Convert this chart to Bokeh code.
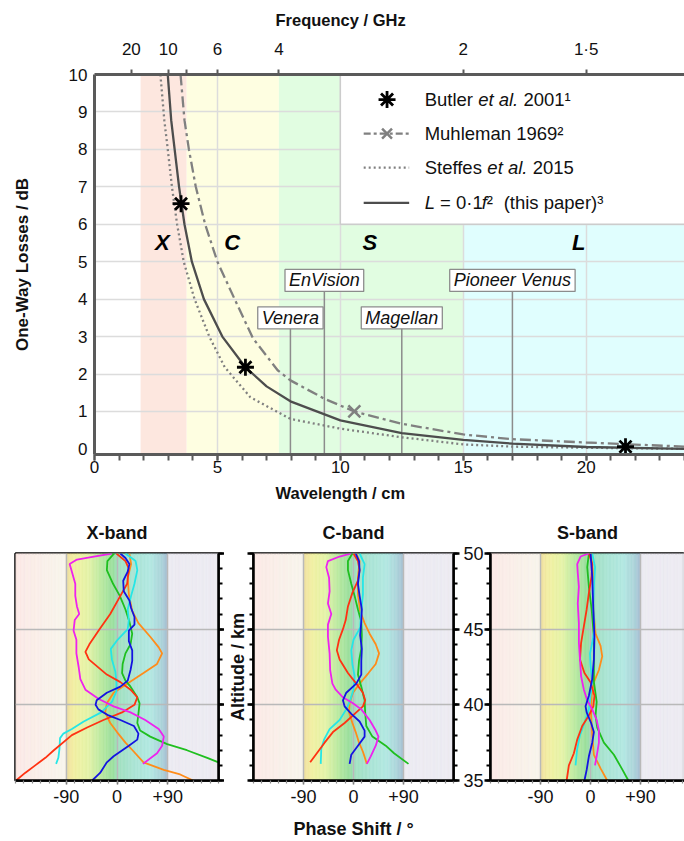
from bokeh.plotting import figure
from bokeh.models import FixedTicker, LinearAxis, Range1d, Title, CustomLabelingPolicy
from bokeh.layouts import column, row
from bokeh.embed import file_html
from bokeh.resources import INLINE
from bokeh.core.properties import value

FONT = "Liberation Sans"

# ---------------- top panel data ----------------
freq_ticks = [20, 10, 8, 6, 4, 2, 1.5]
freq_labels = ["20", "10", "", "6", "4", "2", "1·5"]
wl_ticks = [0, 5, 10, 15, 20]
loss_ticks = [0, 1, 2, 3, 4, 5, 6, 7, 8, 9, 10]

band_names = ["X", "C", "S", "L"]
band_lo = [1.875, 3.75, 7.5, 15.0]
band_hi = [3.75, 7.5, 15.0, 24.0]
band_colors = ["#fde7df", "#fefee1", "#e1fde1", "#e0fefe"]
band_label_wl = [2.76, 5.6, 11.2, 19.7]
band_label_loss = [5.5, 5.5, 5.5, 5.5]

missions = ["Venera", "EnVision", "Magellan", "Pioneer Venus"]
mission_wl = [7.97, 9.35, 12.5, 17.0]
mission_loss = [3.5, 4.5, 3.5, 4.5]

this_wl = [2.98, 3.12, 3.26, 3.44, 3.66, 3.96, 4.45, 5.2, 6.14, 7.0, 7.97, 10.0, 12.5, 15.0, 17.0, 20.0, 24.0]
this_loss = [10.0, 8.78, 8.0, 7.0, 6.0, 5.0, 4.0, 3.0, 2.18, 1.67, 1.27, 0.76, 0.42, 0.24, 0.14, 0.05, 0.0]

muh_wl = [3.5, 3.66, 3.84, 4.12, 4.5, 5.0, 5.7, 6.45, 7.45, 7.97, 9.35, 10.57, 12.5, 15.0, 17.0, 20.0, 24.0]
muh_loss = [10.0, 8.78, 8.0, 7.0, 6.0, 5.0, 4.0, 2.95, 2.1, 1.83, 1.34, 1.0, 0.67, 0.385, 0.26, 0.17, 0.06]

stef_wl = [2.68, 2.84, 2.98, 3.15, 3.36, 3.63, 4.07, 4.67, 5.3, 6.34, 7.97, 10.0, 12.5, 15.0, 17.0, 20.0, 24.0]
stef_loss = [10.0, 8.78, 8.0, 7.0, 6.0, 5.0, 4.0, 3.0, 2.18, 1.38, 0.8, 0.54, 0.31, 0.12, 0.06, 0.03, 0.0]

butler_wl = [3.52, 6.14, 21.6]
butler_loss = [6.55, 2.18, 0.06]
muh_point_wl = [10.57]
muh_point_loss = [1.0]

# ---------------- bottom panels data (altitude km, phase shift deg) ----------------
x_red_alt = [50, 49.5, 49, 48, 47, 46, 45, 44, 43.5, 43, 42, 41.5, 41, 40.5, 40, 39.5, 39, 38.5, 38, 37, 36.5, 36, 35.5, 35]
x_red_deg = [-1, 15, 21, 18, 3, -12, -31, -49, -56, -50, -18, 6, 24, 36, 31, 9, -24, -53, -80, -112, -127, -145, -163, -179]
x_mag_alt = [50, 49.8, 49.6, 49.3, 48.8, 48, 47.2, 46.5, 46.0, 45.6, 44.9, 44.3, 43.4, 42.5, 41.7, 41.0, 40.4, 39.9, 39.5, 39.0, 38.4, 37.9, 37.3, 36.8, 36.1]
x_mag_deg = [-9, -41, -71, -84, -80, -74, -74, -71, -67, -75, -77, -72, -72, -68, -65, -56, -33, -6, 24, 50, 74, 83, 80, 71, 46]
x_grn_alt = [50, 49.5, 48.9, 48, 47.2, 46.3, 45.5, 44.7, 44.0, 43.4, 42.7, 42.1, 41.6, 41.2, 40.5, 40.1, 39.4, 38.8, 38.3, 37.9, 37.4, 37.0, 36.5, 36.2]
x_grn_deg = [-5, -17, -18, -7, 5, 15, 22, 27, 24, 15, 10, 9, 15, 24, 36, 40, 38, 36, 41, 59, 89, 124, 160, 180]
x_cyn_alt = [50, 49.5, 48.9, 48, 47.2, 46.3, 45.6, 45, 44.3, 43.7, 43.0, 42.2, 41.5, 40.9, 40.2, 39.5, 38.9, 38.4, 38.1, 37.8, 37.1, 36.5, 36.1]
x_cyn_deg = [15, 33, 36, 31, 25, 19, 21, 19, 1, -11, -9, -3, -1, -1, -9, -28, -59, -80, -95, -101, -102, -104, -108]
x_blu_alt = [50, 49.7, 49.3, 48.8, 48.2, 47.5, 46.9, 46.4, 45.8, 45.3, 44.9, 44.2, 43.6, 42.9, 42.3, 41.6, 41.2, 40.8, 40.3, 40.0, 39.7, 39.3, 39.0, 38.6, 38.1, 37.7, 37.3, 36.6, 36.2, 35.5, 35]
x_blu_deg = [6, 15, 22, 19, 11, 12, 22, 25, 31, 31, 21, 21, 27, 27, 24, 19, 6, -18, -36, -38, -33, -15, 6, 30, 38, 36, 21, -6, -18, -30, -44]
x_orn_alt = [50, 49.3, 48.4, 47.3, 46.2, 45.4, 44.5, 43.8, 43.4, 42.7, 42.1, 41.4, 40.8, 40.1, 39.5, 38.8, 38.2, 37.5, 36.9, 36.2, 35.7, 35.4, 35.0]
x_orn_deg = [22, 25, 19, 21, 27, 38, 59, 74, 80, 71, 47, 18, -6, -18, -21, -12, 0, 15, 30, 47, 83, 112, 135]

c_red_alt = [50, 49.5, 48.9, 48.2, 47.4, 46.5, 45.6, 45.0, 44.3, 43.6, 43.0, 42.1, 41.4, 40.8, 40.3, 39.9, 39.5, 38.8, 38.2, 37.5, 36.9, 36.2]
c_red_deg = [0, 8, 11, 8, -2, -10, -14, -19, -26, -30, -25, -10, 5, 17, 21, 17, 5, -16, -37, -52, -64, -78]
c_mag_alt = [50, 49.8, 49.5, 49.1, 48.4, 47.5, 46.7, 46.0, 45.3, 44.5, 43.4, 42.3, 41.4, 41.0, 40.5, 40.1, 39.7, 39.0, 38.3, 37.9, 37.3, 36.6, 36.1]
c_mag_deg = [-4, -25, -46, -49, -44, -43, -46, -40, -46, -46, -43, -42, -38, -32, -19, -1, 14, 29, 40, 45, 40, 31, 24]
c_grn_alt = [50, 49.5, 48.9, 48.0, 47.2, 46.3, 45.5, 44.6, 43.7, 42.9, 42.0, 41.2, 40.3, 39.5, 38.6, 37.9, 37.3, 36.8, 36.1]
c_grn_deg = [-2, -10, -10, -4, 2, 8, 14, 15, 14, 10, 8, 14, 20, 21, 23, 34, 58, 73, 99]
c_cyn_alt = [50, 49.3, 48.4, 47.3, 46.2, 45.1, 44.3, 43.6, 42.7, 41.9, 41.0, 40.3, 39.7, 39.0, 38.4, 37.7, 37.1, 36.1]
c_cyn_deg = [11, 20, 17, 17, 14, 12, 0, -4, -2, 2, 0, -6, -13, -25, -43, -53, -58, -59]
c_blu_alt = [50, 49.5, 48.9, 48.0, 47.2, 46.3, 45.5, 44.6, 43.7, 42.9, 42.0, 41.4, 40.8, 40.3, 39.9, 39.4, 38.9, 38.3, 37.9, 37.3, 36.7, 36.1]
c_blu_deg = [4, 10, 11, 8, 11, 15, 14, 12, 15, 14, 14, 5, -13, -19, -16, -4, 11, 20, 20, 8, -4, -7]
c_orn_alt = [50, 49.5, 48.4, 47.3, 46.2, 45.4, 44.7, 44.0, 43.4, 42.7, 42.1, 41.4, 40.8, 40.1, 39.5, 38.8, 38.2, 37.5, 36.9, 36.1]
c_orn_deg = [5, 11, 8, 8, 12, 20, 29, 40, 46, 40, 27, 11, -1, -7, -8, -2, 4, 10, 17, 24]

s_red_alt = [50, 49.3, 48.5, 47.4, 46.3, 45.2, 44.1, 43.0, 42.1, 41.5, 40.6, 39.9, 39.3, 38.6, 37.7, 36.8, 36.0, 35.0]
s_red_deg = [-3, 3, 2, -3, -7, -12, -17, -19, -11, 0, 7, 5, -3, -15, -24, -30, -39, -43]
s_mag_alt = [50, 49.8, 49.3, 48.7, 47.8, 46.7, 45.4, 44.1, 43.0, 41.9, 41.0, 40.3, 39.7, 39.0, 38.3, 37.5, 36.6, 36.0]
s_mag_deg = [-3, -18, -24, -23, -21, -23, -21, -21, -19, -17, -12, -6, 3, 11, 15, 15, 11, 8]
s_grn_alt = [50, 49.1, 47.8, 46.3, 44.5, 43.0, 41.5, 40.2, 39.3, 38.5, 37.5, 36.7, 35.8, 35.0]
s_grn_deg = [-3, -6, -3, 2, 6, 6, 6, 11, 9, 12, 24, 42, 56, 68]
s_cyn_alt = [50, 49.1, 47.8, 46.3, 45.0, 44.1, 43.4, 42.6, 41.5, 40.6, 39.7, 38.8, 38.0, 37.1, 36.0]
s_cyn_deg = [3, 8, 6, 5, 7, 3, -1, 0, 3, 0, -3, -11, -19, -24, -27]
s_blu_alt = [50, 48.5, 46.3, 44.5, 43.0, 41.7, 40.6, 39.9, 39.5, 38.8, 38.2, 37.5, 36.6, 35.7, 35.0]
s_blu_deg = [0, 3, 5, 7, 6, 3, -3, -9, -7, 1, 6, 3, -3, -7, -11]
s_orn_alt = [50, 48.5, 46.3, 44.7, 43.9, 43.2, 42.3, 41.5, 40.6, 39.3, 38.0, 36.7, 35.8, 35.0]
s_orn_deg = [1, 5, 5, 9, 18, 21, 15, 6, 2, 1, 3, 6, 18, 30]

phase_ticks = [-90, 0, 90]
phase_labels = ["-90", "0", "+90"]
alt_ticks = [35, 40, 45, 50]

line_colors = {"red": "#ff3212", "mag": "#ee22ee", "grn": "#1fbf1f",
               "cyn": "#25e6e6", "blu": "#1414e0", "orn": "#ff8c1a"}

# background gradient of the phase panels (style only)
grad_stops = [(-180, (251, 233, 230)), (-90, (248, 245, 236)),
              (-90, (240, 222, 160)), (-75, (242, 240, 162)), (-50, (228, 243, 168)),
              (-25, (182, 232, 160)), (-5, (152, 222, 158)),
              (0, (160, 224, 190)), (30, (170, 228, 212)), (60, (178, 232, 226)),
              (80, (172, 210, 218)), (90, (165, 190, 210)),
              (90, (236, 235, 242)), (180, (236, 235, 242))]

AX = "#5a5a5a"
TXT = "#111111"


def grad_color(c):
    for i in range(len(grad_stops) - 1):
        a, ca = grad_stops[i]
        b, cb = grad_stops[i + 1]
        if a <= c < b and b > a:
            t = (c - a) / (b - a)
            r = [int(round(ca[k] + (cb[k] - ca[k]) * t)) for k in range(3)]
            return "#%02x%02x%02x" % tuple(r)
    return "#ecebf2"


def hide_labels_policy(idx=None):
    if idx is None:
        code = "try { for (const i of Array.from(indices)) indices.unset(i) } catch (e) {}\nreturn indices"
    else:
        code = "try { indices.unset(%d) } catch (e) {}\nreturn indices" % idx
    return CustomLabelingPolicy(code=code)


# ================= TOP FIGURE =================
p = figure(width=684, height=511, x_range=Range1d(0, 24), y_range=Range1d(-0.15, 10),
           output_backend="svg", toolbar_location=None,
           min_border_left=94, min_border_right=0, min_border_top=74, min_border_bottom=57,
           outline_line_color=None, background_fill_color="white")

p.quad(left=band_lo, right=band_hi, bottom=-0.15, top=10, fill_color=band_colors,
       line_color=None, level="image")

p.xgrid.ticker = FixedTicker(ticks=[5, 10, 15, 20])
p.ygrid.ticker = FixedTicker(ticks=[1, 2, 3, 4, 5, 6, 7, 8, 9])
for g in (p.xgrid, p.ygrid):
    g.grid_line_color = "#dcdcdc"
    g.grid_line_width = 1.5

xa = p.xaxis[0]
xa.ticker = FixedTicker(ticks=wl_ticks, minor_ticks=list(range(0, 25)))
xa.major_tick_out = 6
xa.major_tick_in = 0
xa.minor_tick_out = 6
xa.minor_tick_in = 0
xa.major_tick_line_width = 2
xa.minor_tick_line_width = 2
xa.major_tick_line_color = AX
xa.minor_tick_line_color = AX
xa.major_label_standoff = 0

ya = p.yaxis[0]
ya.ticker = FixedTicker(ticks=loss_ticks)
ya.major_tick_out = 0
ya.major_tick_in = 0
ya.minor_tick_out = 0
ya.minor_tick_in = 0
ya.major_label_standoff = 7
ya.axis_label = "One-Way Losses / dB"
ya.axis_label_standoff = 34
ya.axis_label_text_font = FONT
ya.axis_label_text_font_size = "17px"
ya.axis_label_text_font_style = "bold"
ya.axis_label_text_color = TXT

top_ax = LinearAxis(ticker=FixedTicker(ticks=[30.0 / f for f in freq_ticks]),
                    major_label_overrides={30.0 / f: lab for f, lab in zip(freq_ticks, freq_labels)},
                    major_label_policy=hide_labels_policy(2))
top_ax.major_tick_out = 5
top_ax.major_tick_in = 0
top_ax.minor_tick_out = 0
top_ax.minor_tick_in = 0
top_ax.major_tick_line_width = 2
top_ax.major_tick_line_color = AX
top_ax.major_label_standoff = 11
p.add_layout(top_ax, "above")

for ax in [xa, ya, top_ax]:
    ax.axis_line_color = AX
    ax.axis_line_width = 3
    ax.major_label_text_font = FONT
    ax.major_label_text_font_size = "17px"
    ax.major_label_text_color = TXT

# scale titles, left-aligned with an offset so they sit where the original has them
TOFF = 181
t_top = Title(text="Frequency / GHz", align="left", offset=TOFF, vertical_align="middle",
              standoff=13, text_font=FONT, text_font_size="16.5px", text_font_style="bold",
              text_color=TXT)
p.add_layout(t_top, "above")
t_bot = Title(text="Wavelength / cm", align="left", offset=TOFF, vertical_align="middle",
              standoff=15, text_font=FONT, text_font_size="16.5px", text_font_style="bold",
              text_color=TXT)
p.add_layout(t_bot, "below")

# legend backdrop (covers grid)
p.quad(left=[10], right=[24.5], bottom=[6.0], top=[10.2], fill_color="white",
       line_color="#cccccc", line_width=1.5)

# mission lines
p.segment(x0=mission_wl, y0=[-0.15] * 4, x1=mission_wl, y1=mission_loss,
          line_color="#8c8c8c", line_width=1.5)

# curves
p.line(stef_wl, stef_loss, line_color="#808080", line_width=2.3, line_dash="2 3")
p.line(muh_wl, muh_loss, line_color="#808080", line_width=2.3, line_dash="11 4 3 4")
p.line(this_wl, this_loss, line_color="#4d4d4d", line_width=2.3)
p.scatter(muh_point_wl, muh_point_loss, marker="x", size=17, line_color="#808080", line_width=2.5)
p.scatter(butler_wl, butler_loss, marker="asterisk", size=17, line_color="black", line_width=2.8)

# mission labels
p.text(x=mission_wl, y=mission_loss, text=missions, text_align="center", text_baseline="middle",
       text_font=value(FONT), text_font_size="18px", text_font_style="italic", text_color=TXT,
       background_fill_color="white", border_line_color="#8c8c8c", border_line_width=1.3,
       padding=dict(left=4, right=4, top=1, bottom=1))

# band letters
p.text(x=band_label_wl, y=band_label_loss, text=band_names, text_align="center",
       text_baseline="middle", text_font=value(FONT), text_font_size="22px",
       text_font_style="bold italic", text_color="black")

# legend
leg_y = [9.33, 8.42, 7.51, 6.57]
sym_x0, sym_xc, sym_x1, txt_x = 10.95, 11.9, 12.8, 13.43
p.scatter([sym_xc], [leg_y[0]], marker="asterisk", size=17, line_color="black", line_width=2.8)
p.line([sym_x0, sym_x1], [leg_y[1]] * 2, line_color="#808080", line_width=2.3, line_dash="7 3 3 3")
p.scatter([sym_xc], [leg_y[1]], marker="x", size=14, line_color="#808080", line_width=2.5)
p.line([sym_x0, sym_x1], [leg_y[2]] * 2, line_color="#808080", line_width=2.3, line_dash="2 3")
p.line([sym_x0, sym_x1], [leg_y[3]] * 2, line_color="#4d4d4d", line_width=2.3)

LFS = 18.5
pieces = [
    (0, "Butler", "normal", 0), (0, "et al.", "italic", 53.5), (0, "2001¹", "normal", 98.8),
    (1, "Muhleman 1969²", "normal", 0),
    (2, "Steffes", "normal", 0), (2, "et al.", "italic", 62.7), (2, "2015", "normal", 108.0),
    (3, "L", "italic", 0), (3, "= 0·1", "normal", 15.4), (3, "f", "italic", 57.1),
    (3, "²", "normal", 62.2), (3, "(this paper)³", "normal", 79.0),
]
for rowi, txt, style, off in pieces:
    p.text(x=[txt_x], y=[leg_y[rowi]], text=[txt], x_offset=off, text_align="left",
           text_baseline="middle", text_font=value(FONT), text_font_size="%.1fpx" % LFS,
           text_font_style=style, text_color=TXT)


# ================= BOTTOM PANELS =================
def phase_panel(title, width, left, right, lines, ax_left, ax_right, xmax=180, left_labels=False,
                left_title=None, xlabel=None):
    f = figure(width=width, height=330, x_range=Range1d(-180, xmax), y_range=Range1d(35, 50),
               output_backend="svg", toolbar_location=None,
               min_border_left=left, min_border_right=right, min_border_top=42, min_border_bottom=59,
               outline_line_color="black", outline_line_width=2.5, y_axis_location=None)
    step = 2.5
    lefts = [-180 + i * step for i in range(int(360 / step))]
    rights = [l + step for l in lefts]
    cols = [grad_color(l + step / 2) for l in lefts]
    f.quad(left=lefts, right=rights, bottom=35, top=50, fill_color=cols, line_color=cols,
           line_width=0.6, level="image")
    f.xgrid.ticker = FixedTicker(ticks=phase_ticks)
    f.ygrid.ticker = FixedTicker(ticks=[40, 45])
    for g in (f.xgrid, f.ygrid):
        g.grid_line_color = "#b9b9b9"
        g.grid_line_width = 1.5

    xa = f.xaxis[0]
    xa.ticker = FixedTicker(ticks=phase_ticks, minor_ticks=list(range(-180, 181, 15)))
    xa.major_label_overrides = {t: l for t, l in zip(phase_ticks, phase_labels)}
    xa.major_tick_out = 4
    xa.major_tick_in = 0
    xa.minor_tick_out = 3
    xa.minor_tick_in = 0
    xa.major_tick_line_width = 1.5
    xa.minor_tick_line_width = 1.2
    xa.major_tick_line_color = "#666666"
    xa.minor_tick_line_color = "#888888"
    xa.axis_line_color = "black"
    xa.axis_line_width = 2.5
    xa.major_label_text_font = FONT
    xa.major_label_text_font_size = "18px"
    xa.major_label_text_color = TXT
    xa.major_label_standoff = 5
    if xlabel:
        xa.axis_label = xlabel
        xa.axis_label_text_font = FONT
        xa.axis_label_text_font_size = "18px"
        xa.axis_label_text_font_style = "bold"
        xa.axis_label_text_color = TXT
        xa.axis_label_standoff = 13

    def alt_axis(show_labels, label=None):
        a = LinearAxis(ticker=FixedTicker(ticks=alt_ticks, minor_ticks=list(range(35, 51))))
        a.major_tick_out = 6
        a.major_tick_in = 0
        a.minor_tick_out = 4
        a.minor_tick_in = 0
        a.major_tick_line_width = 2.5
        a.minor_tick_line_width = 2
        a.major_tick_line_color = "black"
        a.minor_tick_line_color = "black"
        a.axis_line_color = "black"
        a.axis_line_width = 2.5
        a.major_label_text_font = FONT
        a.major_label_text_color = TXT
        if show_labels:
            a.major_label_text_font_size = "18px"
            a.major_label_standoff = 1
        else:
            a.major_label_text_font_size = "0px"
            a.major_label_standoff = 0
            a.major_label_policy = hide_labels_policy()
        if label:
            a.axis_label = label
            a.axis_label_text_font = FONT
            a.axis_label_text_font_size = "18px"
            a.axis_label_text_font_style = "bold"
            a.axis_label_text_color = TXT
            a.axis_label_standoff = 0
        return a

    if ax_left:
        f.add_layout(alt_axis(left_labels, left_title), "left")
    if ax_right:
        f.add_layout(alt_axis(False), "right")

    for key, alts, degs in lines:
        f.line(degs, alts, line_color=line_colors[key], line_width=1.8)

    f.title.text = title
    f.title.align = "center"
    f.title.vertical_align = "middle"
    f.title.text_font = FONT
    f.title.text_font_size = "18px"
    f.title.text_font_style = "bold"
    f.title.text_color = TXT
    f.title.standoff = 20
    return f


x_lines = [("orn", x_orn_alt, x_orn_deg), ("grn", x_grn_alt, x_grn_deg), ("cyn", x_cyn_alt, x_cyn_deg),
           ("red", x_red_alt, x_red_deg), ("mag", x_mag_alt, x_mag_deg), ("blu", x_blu_alt, x_blu_deg)]
c_lines = [("orn", c_orn_alt, c_orn_deg), ("grn", c_grn_alt, c_grn_deg), ("cyn", c_cyn_alt, c_cyn_deg),
           ("red", c_red_alt, c_red_deg), ("mag", c_mag_alt, c_mag_deg), ("blu", c_blu_alt, c_blu_deg)]
s_lines = [("orn", s_orn_alt, s_orn_deg), ("grn", s_grn_alt, s_grn_deg), ("cyn", s_cyn_alt, s_cyn_deg),
           ("red", s_red_alt, s_red_deg), ("mag", s_mag_alt, s_mag_deg), ("blu", s_blu_alt, s_blu_deg)]

fx = phase_panel("X-band", 224, 15, 6, x_lines, ax_left=False, ax_right=True)
fc = phase_panel("C-band", 236, 28, 7, c_lines, ax_left=True, ax_right=True,
                 left_title="Altitude / km", xlabel="Phase Shift / °")
fs = phase_panel("S-band", 224, 28, 0, s_lines, ax_left=True, ax_right=False, xmax=169, left_labels=True)

layout = column(p, row(fx, fc, fs, spacing=0), spacing=0)

open("out.html", "w").write(file_html(layout, INLINE))
